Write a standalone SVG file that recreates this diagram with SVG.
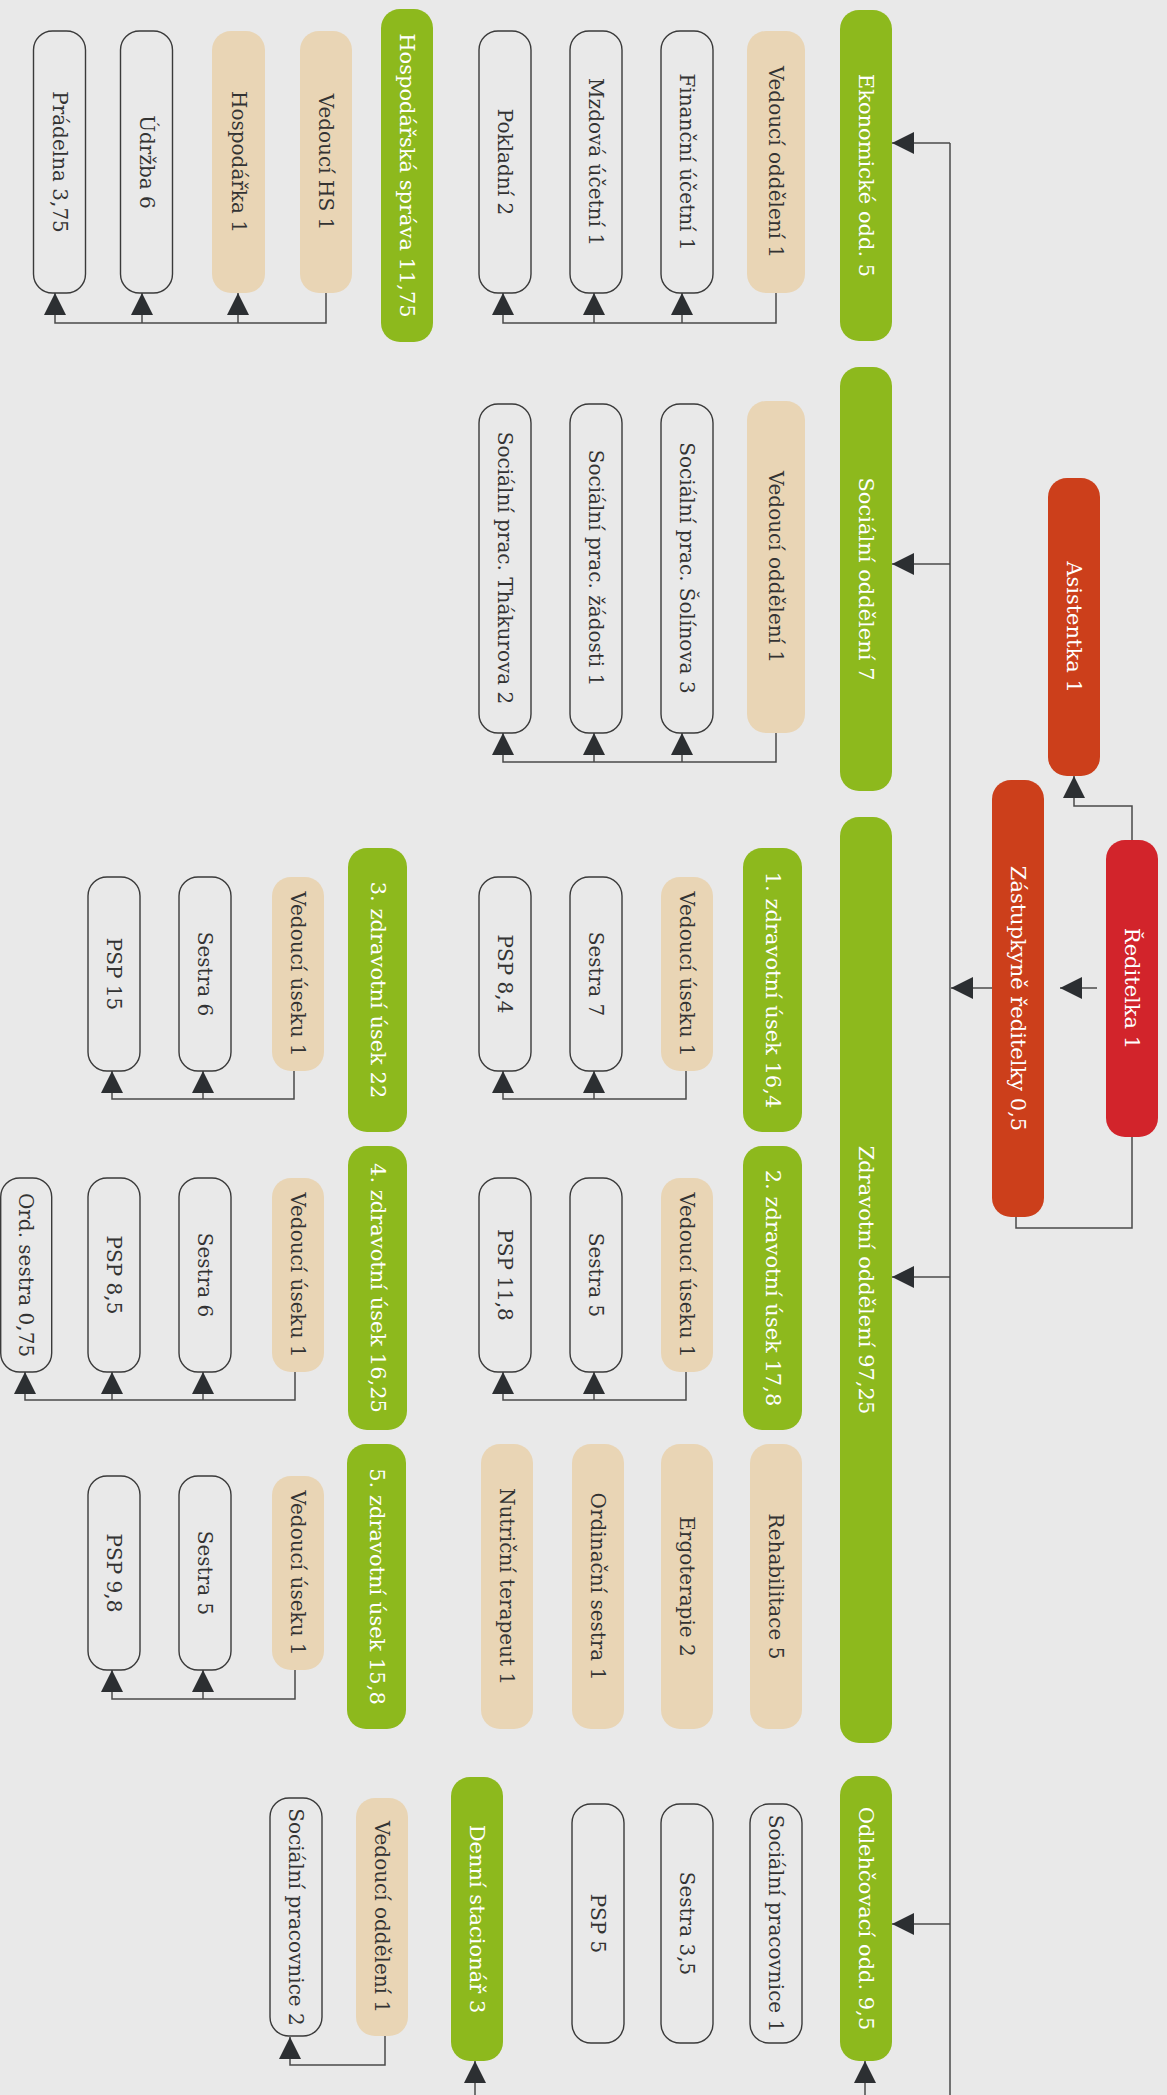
<svg xmlns="http://www.w3.org/2000/svg" width="1167" height="2095" viewBox="0 0 1167 2095">
<style>
.bg{fill:#e9e9e9}
.g{fill:#8db91d}
.r{fill:#d2242b}
.o{fill:#cc3f1b}
.tan{fill:#e9d5b5}
.wh{fill:none;stroke:#3a3a3a;stroke-width:1.4}
.t{font-family:"DejaVu Serif",serif;font-size:20px;fill:#333;text-anchor:middle;dominant-baseline:central}
.h{font-family:"DejaVu Serif",serif;font-size:21px;fill:#fff;text-anchor:middle;dominant-baseline:central}
.c{fill:none;stroke:#4a4a4a;stroke-width:1.5}
.a{fill:none;stroke:#4a4a4a;stroke-width:1.5;marker-end:url(#ah)}
</style>
<defs>
<marker id="ah" viewBox="0 0 22 22" refX="22" refY="11" markerWidth="22" markerHeight="22" markerUnits="userSpaceOnUse" orient="auto">
<path d="M0,0 L22,11 L0,22 z" fill="#2c2f32"/>
</marker>
</defs>
<rect class="bg" x="0" y="0" width="1167" height="2095"/>

<g id="connectors">
<path class="c" d="M950,2095 V143"/>
<path class="a" d="M950,143 H892"/>
<path class="a" d="M950,564 H892"/>
<path class="a" d="M950,1277 H892"/>
<path class="a" d="M950,1924 H892"/>
<path class="a" d="M992,988 H951"/>
<path class="a" d="M1097,988 H1060"/>
<path class="a" d="M1132,840 V806 H1074 V776"/>
<path class="c" d="M1132,1137 V1228 H1016 V1217"/>
<path class="a" d="M865,2095 V2061"/>
<path class="a" d="M475,2095 V2061"/>
<path class="a" d="M385,2036 V2065 H290 V2037"/>
<path class="a" d="M776,293 V323 H503 V293"/>
<path class="a" d="M682,323 V293"/>
<path class="a" d="M594,323 V293"/>
<path class="a" d="M326,293 V323 H55 V293"/>
<path class="a" d="M238,323 V293"/>
<path class="a" d="M142,323 V293"/>
<path class="a" d="M776,733 V762 H503 V733"/>
<path class="a" d="M682,762 V733"/>
<path class="a" d="M594,762 V733"/>
<path class="a" d="M686,1071 V1099 H503 V1071"/>
<path class="a" d="M594,1099 V1071"/>
<path class="a" d="M686,1372 V1400 H503 V1372"/>
<path class="a" d="M594,1400 V1372"/>
<path class="a" d="M294,1071 V1099 H112 V1071"/>
<path class="a" d="M203,1099 V1071"/>
<path class="a" d="M295,1372 V1400 H25 V1372"/>
<path class="a" d="M203,1400 V1372"/>
<path class="a" d="M112,1400 V1372"/>
<path class="a" d="M295,1670 V1699 H112 V1670"/>
<path class="a" d="M203,1699 V1670"/>
</g>

<g id="reditelka"><rect class="r" x="1106" y="840" width="52" height="297" rx="19"/><text class="h" x="1132" y="988.5" transform="rotate(90 1132 988.5)">Ředitelka 1</text></g>
<g id="asistentka"><rect class="o" x="1048" y="478" width="52" height="298" rx="19"/><text class="h" x="1074" y="627" transform="rotate(90 1074 627)">Asistentka 1</text></g>
<g id="zastupkyne"><rect class="o" x="992" y="780" width="52" height="437" rx="19"/><text class="h" x="1018" y="998.5" transform="rotate(90 1018 998.5)">Zástupkyně ředitelky 0,5</text></g>

<g id="ekonomicke"><rect class="g" x="840" y="10" width="52" height="331" rx="19"/><text class="h" x="866" y="175.5" transform="rotate(90 866 175.5)">Ekonomické odd. 5</text></g>
<g id="socialni"><rect class="g" x="840" y="367" width="52" height="424" rx="19"/><text class="h" x="866" y="579" transform="rotate(90 866 579)">Sociální oddělení 7</text></g>
<g id="zdravotni"><rect class="g" x="840" y="817" width="52" height="926" rx="19"/><text class="h" x="866" y="1280" transform="rotate(90 866 1280)">Zdravotní oddělení 97,25</text></g>
<g id="odlehcovaci"><rect class="g" x="840" y="1776" width="52" height="285" rx="19"/><text class="h" x="866" y="1918.5" transform="rotate(90 866 1918.5)">Odlehčovací odd. 9,5</text></g>
<g id="hospodarska"><rect class="g" x="381" y="9" width="52" height="333" rx="19"/><text class="h" x="407" y="175.5" transform="rotate(90 407 175.5)">Hospodářská správa 11,75</text></g>
<g id="denni"><rect class="g" x="451" y="1777" width="52" height="284" rx="19"/><text class="h" x="477" y="1919" transform="rotate(90 477 1919)">Denní stacionář 3</text></g>

<g id="ek-vedouci"><rect class="tan" x="747" y="31" width="58" height="262" rx="19"/><text class="t" x="776" y="162" transform="rotate(90 776 162)">Vedoucí oddělení 1</text></g>
<g id="ek-financni"><rect class="wh" x="661" y="31" width="52" height="262" rx="19"/><text class="t" x="687" y="162" transform="rotate(90 687 162)">Finanční účetní 1</text></g>
<g id="ek-mzdova"><rect class="wh" x="570" y="31" width="52" height="262" rx="19"/><text class="t" x="596" y="162" transform="rotate(90 596 162)">Mzdová účetní 1</text></g>
<g id="ek-pokladni"><rect class="wh" x="479" y="31" width="52" height="262" rx="19"/><text class="t" x="505" y="162" transform="rotate(90 505 162)">Pokladní 2</text></g>

<g id="hs-vedouci"><rect class="tan" x="300" y="31" width="52" height="262" rx="19"/><text class="t" x="326" y="162" transform="rotate(90 326 162)">Vedoucí HS 1</text></g>
<g id="hs-hospodarka"><rect class="tan" x="212" y="31" width="53" height="262" rx="19"/><text class="t" x="238.5" y="162" transform="rotate(90 238.5 162)">Hospodářka 1</text></g>
<g id="hs-udrzba"><rect class="wh" x="120.5" y="31" width="52" height="262" rx="19"/><text class="t" x="146.5" y="162" transform="rotate(90 146.5 162)">Údržba 6</text></g>
<g id="hs-pradelna"><rect class="wh" x="33.5" y="31" width="52" height="262" rx="19"/><text class="t" x="59.5" y="162" transform="rotate(90 59.5 162)">Prádelna 3,75</text></g>

<g id="so-vedouci"><rect class="tan" x="747" y="401" width="58" height="332" rx="19"/><text class="t" x="776" y="567" transform="rotate(90 776 567)">Vedoucí oddělení 1</text></g>
<g id="so-solinova"><rect class="wh" x="661" y="404" width="52" height="329" rx="19"/><text class="t" x="687" y="568" transform="rotate(90 687 568)">Sociální prac. Šolínova 3</text></g>
<g id="so-zadosti"><rect class="wh" x="570" y="404" width="52" height="329" rx="19"/><text class="t" x="596" y="568" transform="rotate(90 596 568)">Sociální prac. žádosti 1</text></g>
<g id="so-thakurova"><rect class="wh" x="479" y="404" width="52" height="329" rx="19"/><text class="t" x="505" y="568" transform="rotate(90 505 568)">Sociální prac. Thákurova 2</text></g>

<g id="usek1"><rect class="g" x="743" y="848" width="59" height="284" rx="19"/><text class="h" x="772.5" y="990" transform="rotate(90 772.5 990)">1. zdravotní úsek 16,4</text></g>
<g id="usek2"><rect class="g" x="743" y="1146" width="59" height="284" rx="19"/><text class="h" x="772.5" y="1288" transform="rotate(90 772.5 1288)">2. zdravotní úsek 17,8</text></g>
<g id="usek3"><rect class="g" x="348" y="848" width="59" height="284" rx="19"/><text class="h" x="377.5" y="990" transform="rotate(90 377.5 990)">3. zdravotní úsek 22</text></g>
<g id="usek4"><rect class="g" x="348" y="1146" width="59" height="284" rx="19"/><text class="h" x="377.5" y="1288" transform="rotate(90 377.5 1288)">4. zdravotní úsek 16,25</text></g>
<g id="usek5"><rect class="g" x="347" y="1444" width="59" height="285" rx="19"/><text class="h" x="376.5" y="1586.5" transform="rotate(90 376.5 1586.5)">5. zdravotní úsek 15,8</text></g>

<g id="rehabilitace"><rect class="tan" x="750" y="1444" width="52" height="285" rx="19"/><text class="t" x="776" y="1586.5" transform="rotate(90 776 1586.5)">Rehabilitace 5</text></g>
<g id="ergoterapie"><rect class="tan" x="661" y="1444" width="52" height="285" rx="19"/><text class="t" x="687" y="1586.5" transform="rotate(90 687 1586.5)">Ergoterapie 2</text></g>
<g id="ordinacni"><rect class="tan" x="572" y="1444" width="52" height="285" rx="19"/><text class="t" x="598" y="1586.5" transform="rotate(90 598 1586.5)">Ordinační sestra 1</text></g>
<g id="nutricni"><rect class="tan" x="481" y="1444" width="52" height="285" rx="19"/><text class="t" x="507" y="1586.5" transform="rotate(90 507 1586.5)">Nutriční terapeut 1</text></g>

<g id="u1-vedouci"><rect class="tan" x="661" y="877" width="52" height="194" rx="19"/><text class="t" x="687" y="974" transform="rotate(90 687 974)">Vedoucí úseku 1</text></g>
<g id="u1-sestra"><rect class="wh" x="570" y="877" width="52" height="194" rx="19"/><text class="t" x="596" y="974" transform="rotate(90 596 974)">Sestra 7</text></g>
<g id="u1-psp"><rect class="wh" x="479" y="877" width="52" height="194" rx="19"/><text class="t" x="505" y="974" transform="rotate(90 505 974)">PSP 8,4</text></g>

<g id="u2-vedouci"><rect class="tan" x="661" y="1178" width="52" height="194" rx="19"/><text class="t" x="687" y="1275" transform="rotate(90 687 1275)">Vedoucí úseku 1</text></g>
<g id="u2-sestra"><rect class="wh" x="570" y="1178" width="52" height="194" rx="19"/><text class="t" x="596" y="1275" transform="rotate(90 596 1275)">Sestra 5</text></g>
<g id="u2-psp"><rect class="wh" x="479" y="1178" width="52" height="194" rx="19"/><text class="t" x="505" y="1275" transform="rotate(90 505 1275)">PSP 11,8</text></g>

<g id="u3-vedouci"><rect class="tan" x="272" y="877" width="52" height="194" rx="19"/><text class="t" x="298" y="974" transform="rotate(90 298 974)">Vedoucí úseku 1</text></g>
<g id="u3-sestra"><rect class="wh" x="179" y="877" width="52" height="194" rx="19"/><text class="t" x="205" y="974" transform="rotate(90 205 974)">Sestra 6</text></g>
<g id="u3-psp"><rect class="wh" x="88" y="877" width="52" height="194" rx="19"/><text class="t" x="114" y="974" transform="rotate(90 114 974)">PSP 15</text></g>

<g id="u4-vedouci"><rect class="tan" x="272" y="1178" width="52" height="194" rx="19"/><text class="t" x="298" y="1275" transform="rotate(90 298 1275)">Vedoucí úseku 1</text></g>
<g id="u4-sestra"><rect class="wh" x="179" y="1178" width="52" height="194" rx="19"/><text class="t" x="205" y="1275" transform="rotate(90 205 1275)">Sestra 6</text></g>
<g id="u4-psp"><rect class="wh" x="88" y="1178" width="52" height="194" rx="19"/><text class="t" x="114" y="1275" transform="rotate(90 114 1275)">PSP 8,5</text></g>
<g id="u4-ord"><rect class="wh" x="0.7" y="1178" width="51" height="194" rx="19"/><text class="t" x="26" y="1275" transform="rotate(90 26 1275)">Ord. sestra 0,75</text></g>

<g id="u5-vedouci"><rect class="tan" x="272" y="1476" width="52" height="194" rx="19"/><text class="t" x="298" y="1573" transform="rotate(90 298 1573)">Vedoucí úseku 1</text></g>
<g id="u5-sestra"><rect class="wh" x="179" y="1476" width="52" height="194" rx="19"/><text class="t" x="205" y="1573" transform="rotate(90 205 1573)">Sestra 5</text></g>
<g id="u5-psp"><rect class="wh" x="88" y="1476" width="52" height="194" rx="19"/><text class="t" x="114" y="1573" transform="rotate(90 114 1573)">PSP 9,8</text></g>

<g id="od-socialni"><rect class="wh" x="750" y="1804" width="52" height="239" rx="19"/><text class="t" x="776" y="1923.5" transform="rotate(90 776 1923.5)">Sociální pracovnice 1</text></g>
<g id="od-sestra"><rect class="wh" x="661" y="1804" width="52" height="239" rx="19"/><text class="t" x="687" y="1923.5" transform="rotate(90 687 1923.5)">Sestra 3,5</text></g>
<g id="od-psp"><rect class="wh" x="572" y="1804" width="52" height="239" rx="19"/><text class="t" x="598" y="1923.5" transform="rotate(90 598 1923.5)">PSP 5</text></g>

<g id="ds-vedouci"><rect class="tan" x="356" y="1798" width="52" height="238" rx="19"/><text class="t" x="382" y="1917" transform="rotate(90 382 1917)">Vedoucí oddělení 1</text></g>
<g id="ds-socialni"><rect class="wh" x="270" y="1798" width="52" height="238" rx="19"/><text class="t" x="296" y="1917" transform="rotate(90 296 1917)">Sociální pracovnice 2</text></g>
</svg>
